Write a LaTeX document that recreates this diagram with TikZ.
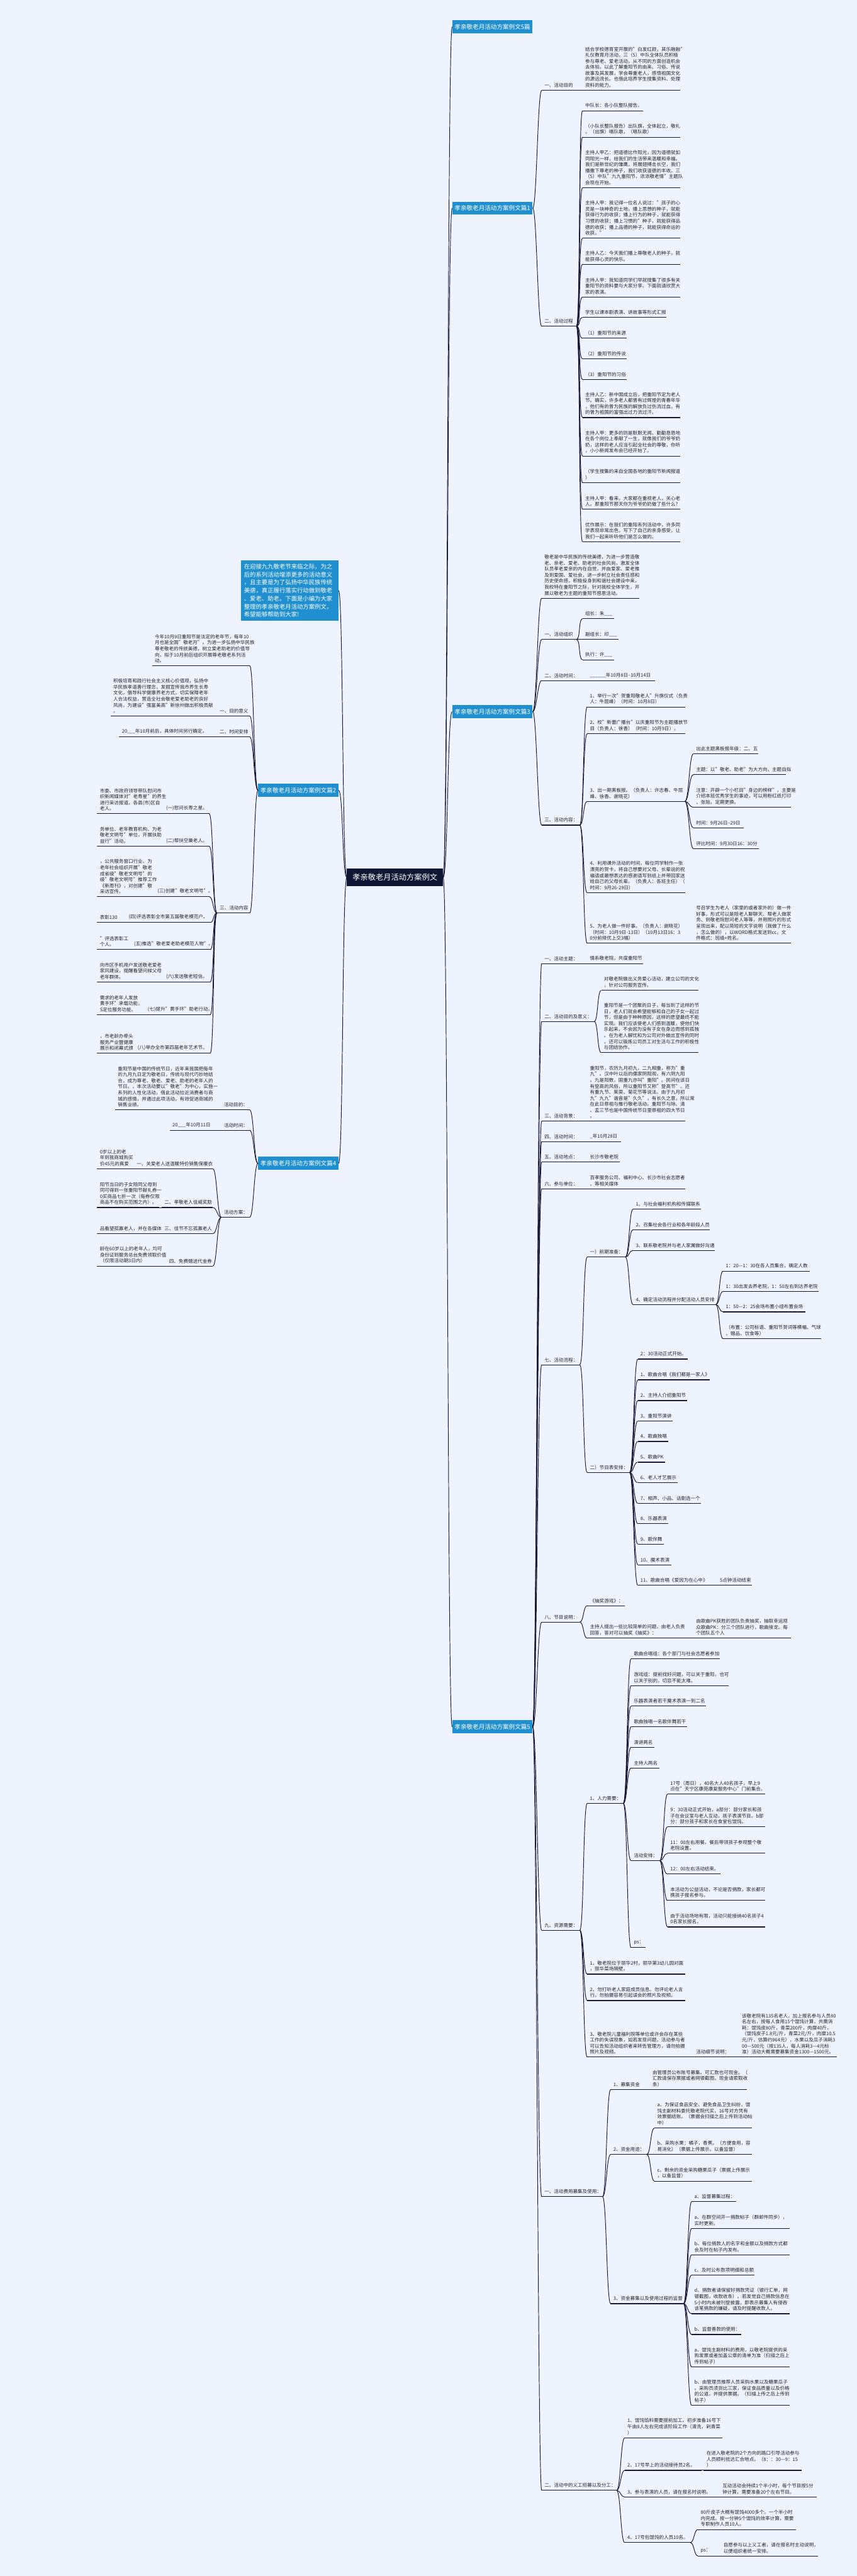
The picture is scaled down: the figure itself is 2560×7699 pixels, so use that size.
\documentclass[tikz,border=0pt]{standalone}
\usepackage{fontspec}
\setmainfont{Noto Sans CJK SC}
\usetikzlibrary{positioning}
\definecolor{bgc}{RGB}{238,243,254}
\definecolor{linec}{RGB}{22,26,52}
\definecolor{bluec}{RGB}{31,143,207}
\definecolor{rootc}{RGB}{14,22,52}
\definecolor{txtc}{RGB}{36,36,40}
\tikzset{
  txt/.style={anchor=south west, inner sep=0pt, align=left, text=txtc, font=\fontsize{7.1}{9}\selectfont},
  uline/.style={draw=linec, line width=1.1pt},
  link/.style={draw=linec, line width=0.9pt},
  bbox/.style={fill=bluec, text=white, inner sep=0pt, minimum width=120pt, minimum height=19.5pt, font=\fontsize{9}{11}\selectfont},
  rootbox/.style={fill=rootc, text=white, inner sep=0pt, minimum width=143.5pt, minimum height=25.5pt, font=\fontsize{11.5}{13}\selectfont},
  introbox/.style={fill=bluec, text=white, inner sep=0pt, minimum width=146pt, minimum height=91pt, align=left, text width=136pt, font=\fontsize{8.8}{12}\selectfont}
}
\newcommand{\leaf}[5]{\draw[uline] (#2,#4) coordinate (#1-l) -- (#3,#4) coordinate (#1-r);
  \node[txt] (#1) at (#2+8,#4-8) {#5};}
\newcommand{\rlink}[2]{\draw[link] (#1) .. controls +(12,0) and +(-12,0) .. (#2);}
\newcommand{\llink}[2]{\draw[link] (#1) .. controls +(-12,0) and +(12,0) .. (#2);}

\begin{document}
\begin{tikzpicture}[x=0.5pt,y=-0.5pt]
\fill[bgc] (0,0) rectangle (2560,7699);
\useasboundingbox (0,0) rectangle (2560,7699);

\node[rootbox] (root) at (1180,2622) {孝亲敬老月活动方案例文}; % centre
\node[bbox] (b0) at (1471,80) {孝亲敬老月活动方案例文5篇};
\node[bbox] (b1) at (1471,622) {孝亲敬老月活动方案例文篇1};
\node[bbox] (b3) at (1471,2127) {孝亲敬老月活动方案例文篇3};
\node[bbox] (b5) at (1471,5161) {孝亲敬老月活动方案例文篇5};
\node[introbox] (intro) at (865,1765) {在迎接九九敬老节来临之际，为之\\后的系列活动增添更多的活动意义\\，且主要是为了弘扬中华民族传统\\美德，真正履行落实行动做到敬老\\、爱老、助老。下面是小编为大家\\整理的孝亲敬老月活动方案例文，\\希望能够帮助到大家!};
\node[bbox] (b2) at (891,2362) {孝亲敬老月活动方案例文篇2};
\node[bbox] (b4) at (891,3477) {孝亲敬老月活动方案例文篇4};
\foreach \b in {b0,b1,b3,b5} \draw[link] (root.east) .. controls +(14,0) and +(-14,0) .. (\b.west);
\foreach \b in {intro,b2,b4} \draw[link] (root.west) .. controls +(-14,0) and +(14,0) .. (\b.east);

% 篇1
\leaf{a1}{1618}{1722}{270}{一、活动目的}
\leaf{a1x}{1740}{2032}{270}{结合学校德育室开展的"白发红颜，其乐融融"\\礼仪教育月活动，三（5）中队全体队员积极\\参与尊老、爱老活动，从不同的方面创造机会\\去体验。以此了解重阳节的由来、习俗、传说\\故事及其发展，学会尊重老人，感悟祖国文化\\的源远流长。也借此培养学生搜集资料、处理\\资料的能力。}
\leaf{a2}{1618}{1722}{975}{二、活动过程}
\leaf{a2c1}{1740}{1921}{331}{中队长：各小队整队报告。}
\leaf{a2c2}{1740}{2032}{410}{（小队长整队报告）出队旗，全体起立，敬礼\\。（出旗）唱队歌，（唱队歌）}
\leaf{a2c3}{1740}{2032}{561}{主持人甲乙：把道德比作阳光，因为道德就如\\同阳光一样，给我们的生活带来温暖和幸福。\\我们是新世纪的雏鹰，将展翅搏击长空，我们\\播撒下尊老的种子，我们收获道德的丰收。三\\（5）中队"九九重阳节，浓浓敬老情"主题队\\会现在开始。}
\leaf{a2c4}{1740}{2032}{712}{主持人甲：我记得一位名人说过："孩子的心\\灵是一块神奇的土地，播上思想的种子，就能\\获得行为的收获；播上行为的种子，就能获得\\习惯的收获；播上习惯的"种子，就能获得品\\德的收获；播上品德的种子，就能获得命运的\\收获。"}
\leaf{a2c5}{1740}{2032}{790}{主持人乙：今天我们播上尊敬老人的种子，就\\能获得心灵的快乐。}
\leaf{a2c6}{1740}{2032}{888}{主持人甲：我知道同学们早就搜集了很多有关\\重阳节的资料要与大家分享。下面就请欣赏大\\家的表演。}
\leaf{a2c7}{1740}{1990}{949}{学生以课本剧表演、讲故事等形式汇报}
\leaf{a2c8}{1740}{1873}{1011}{（1）重阳节的来源}
\leaf{a2c9}{1740}{1873}{1072}{（2）重阳节的传说}
\leaf{a2c10}{1740}{1873}{1134}{（3）重阳节的习俗}
\leaf{a2c11}{1740}{2032}{1248}{主持人乙：新中国成立后，把重阳节定为老人\\节。确实，许多老人都曾有过辉煌的青春年华\\，他们有的曾为民族的解放负过伤流过血，有\\的曾为祖国的富强出过力流过汗。}
\leaf{a2c12}{1740}{2032}{1363}{主持人甲：更多的则是默默无闻、勤勤恳恳地\\在各个岗位上奉献了一生，就像我们的爷爷奶\\奶，这样的老人应当引起全社会的尊敬，你听\\，小小新闻发布会已经开始了。}
\leaf{a2c13}{1740}{2032}{1443}{（学生搜集的来自全国各地的重阳节新闻报道\\）}
\leaf{a2c14}{1740}{2032}{1522}{主持人甲：看来，大家都在重视老人，关心老\\人。那重阳节那天你为爷爷奶奶做了些什么？}
\leaf{a2c15}{1740}{2032}{1619}{优作展示：在我们的重阳系列活动中，许多同\\学表现非常出色，写下了自己的亲身感受，让\\我们一起来听听他们是怎么做的。}
\foreach \c in {a1,a2} \draw[link] (b1.east) .. controls +(12,0) and +(-12,0) .. (\c-l);
\rlink{a1-r}{a1x-l}
\foreach \c in {a2c1,a2c2,a2c3,a2c4,a2c5,a2c6,a2c7,a2c8,a2c9,a2c10,a2c11,a2c12,a2c13,a2c14,a2c15} \rlink{a2-r}{\c-l};

% 篇3
\leaf{c1}{1618}{1909}{1788}{敬老是中华民族的传统美德，为进一步营造敬\\老、亲老、爱老、助老的社会风尚，激发全体\\队员孝老爱亲的内在自觉，并由爱家、爱老推\\及到爱国、爱社会，进一步树立社会责任感和\\历史使命感，积极投身到和谐社会建设中来，\\我校特在重阳节之际，针对我校全体学生，开\\展以敬老为主题的重阳节感恩活动。}
\leaf{c2}{1618}{1722}{1911}{一、活动组织}
\leaf{c2a}{1740}{1834}{1849}{组长：朱\_\_\_}
\leaf{c2b}{1740}{1848}{1911}{副组长：印\_\_\_}
\leaf{c2c}{1740}{1834}{1972}{执行：许\_\_\_}
\leaf{c3}{1618}{1732}{2034}{二、活动时间：}
\leaf{c3a}{1754}{1956}{2034}{\_\_\_\_\_\_年10月8日--10月14日}
\leaf{c4}{1618}{1732}{2466}{三、活动内容：}
\leaf{d1}{1754}{2046}{2113}{1、举行一次"贺重阳敬老人"升旗仪式（负责\\人：牛屈峰）（时间：10月8日）}
\leaf{d2}{1754}{2046}{2193}{2、校"新蕾广播台"以庆重阳节为主题播放节\\目（负责人：徐香）（时间：10月9日）。}
\leaf{d3}{1754}{2046}{2395}{3、出一期黑板报。（负责人：许志春、牛屈\\峰、徐香、谢晓花）}
\leaf{e1}{2071}{2265}{2253}{出此主题黑板报年级：二、五}
\leaf{e2}{2071}{2347}{2315}{主题：以"敬老、助老"为大方向，主题自拟}
\leaf{e3}{2071}{2363}{2413}{注意：开辟一个小栏目"身边的榜样"，主要是\\介绍本班优秀学生的事迹，可以用粉红纸打印\\、张贴，定期更换。}
\leaf{e4}{2071}{2222}{2474}{时间：9月26日--29日}
\leaf{e5}{2071}{2267}{2536}{评比时间：9月30日16：30分}
\leaf{d4}{1754}{2046}{2668}{4、利用课外活动的时间，每位同学制作一张\\漂亮的贺卡，将自己想要对父母、长辈说的祝\\福语或最想表达的感谢语写到纸上并带回家送\\给自己的父母长辈。（负责人：各班主任）（\\时间：9月26-29日）}
\leaf{d5}{1754}{2046}{2819}{5、为老人做一件好事。（负责人：谢晓花）\\（时间：10月9日-13日）（10月13日16：3\\0分前择优上交3幅）}
\leaf{d5a}{2071}{2363}{2819}{号召学生为老人（家里的或者家外的）做一件\\好事，形式可以是陪老人聊聊天、帮老人做家\\务、到敬老院慰问老人等等，并用照片的形式\\呈现出来，配以简短的文字说明（我做了什么\\，怎么做的），以WORD格式发送到cc，文\\件格式：班级+姓名。}
\foreach \c in {c1,c2,c3,c4} \draw[link] (b3.east) .. controls +(12,0) and +(-12,0) .. (\c-l);
\foreach \c in {c2a,c2b,c2c} \rlink{c2-r}{\c-l};
\rlink{c3-r}{c3a-l}
\foreach \c in {d1,d2,d3,d4,d5} \rlink{c4-r}{\c-l};
\foreach \c in {e1,e2,e3,e4,e5} \rlink{d3-r}{\c-l};
\rlink{d5-r}{d5a-l}

% 篇5
\leaf{f1}{1618}{1732}{2880}{一、活动主题：}
\leaf{f1a}{1754}{1921}{2880}{情系敬老院，共度重阳节}
\leaf{f2}{1618}{1775}{3053}{二、活动目的及意义：}
\leaf{f2a}{1796}{2087}{2960}{对敬老院做出义务爱心活动，建立公司的文化\\，针对公司服务宣传。}
\leaf{f2b}{1796}{2087}{3146}{重阳节是一个团聚的日子，每当到了这样的节\\日，老人们就会希望能够和自己的子女一起过\\节，但是由于种种原因，这样的愿望最终不能\\实现。我们应该使老人们感到温暖，使他们快\\乐起来，不会因为没有子女在身边而感到孤独\\。在为老人解忧和为公司对外做出宣传的同时\\，还可以锻炼公司员工对生活与工作的积极性\\与团结协作。}
\leaf{f3}{1618}{1732}{3351}{三、活动背景：}
\leaf{f3a}{1754}{2046}{3351}{重阳节，农历九月初九，二九相重，称为"重\\九"。汉中叶以后的儒家阴阳观，有六阴九阳\\。九是阳数，固重九亦叫"重阳"。民间在该日\\有登高的风俗，所以重阳节又称"登高节"。还\\有重九节、茱萸、菊花节等说法。由于九月初\\九"九九"谐音是"久久"，有长久之意，所以常\\在此日祭祖与推行敬老活动。重阳节与除、清\\、盂三节也是中国传统节日里祭祖的四大节日\\。}
\leaf{f4}{1618}{1732}{3412}{四、活动时间：}
\leaf{f4a}{1754}{1855}{3412}{\_年10月28日}
\leaf{f5}{1618}{1732}{3473}{五、活动地点：}
\leaf{f5a}{1754}{1852}{3473}{长沙市敬老院}
\leaf{f6}{1618}{1732}{3553}{六、参与单位：}
\leaf{f6a}{1754}{2046}{3553}{百孝服务公司、福利中心、长沙市社会志愿者\\、等相关媒体}
\leaf{f7}{1618}{1732}{4079}{七、活动流程：}
\leaf{g1}{1754}{1868}{3757}{一）前期准备：}
\leaf{h1}{1891}{2093}{3614}{1、与社会福利机构和传媒联系}
\leaf{h2}{1891}{2120}{3675}{2、召集社会各行业和各年龄段人员}
\leaf{h3}{1891}{2135}{3737}{3、联系敬老院并与老人家属做好沟通}
\leaf{h4}{1891}{2138}{3899}{4、确定活动流程并分配活动人员安排}
\leaf{i1}{2160}{2419}{3799}{1：20—1：30在各人员集合，确定人数}
\leaf{i2}{2160}{2445}{3860}{1：30出发去养老院，1：50左右到达养老院}
\leaf{i3}{2160}{2405}{3921}{1：50—2：25会场布置小组布置会场}
\leaf{i4}{2160}{2453}{4001}{（布置：公司标语、重阳节贺词等横幅、气球\\、赠品、饮食等）}
\leaf{g2}{1754}{1881}{4401}{二）节目表安排：}
\leaf{j1}{1905}{2054}{4062}{2：30活动正式开始。}
\leaf{j2}{1905}{2120}{4124}{1、歌曲合唱《我们都是一家人》}
\leaf{j3}{1905}{2052}{4186}{2、主持人介绍重阳节}
\leaf{j4}{1905}{2010}{4247}{3、重阳节演讲}
\leaf{j5}{1905}{1997}{4308}{4、歌曲独唱}
\leaf{j6}{1905}{1986}{4370}{5、歌曲PK}
\leaf{j7}{1905}{2024}{4431}{6、老人才艺展示}
\leaf{j8}{1905}{2093}{4493}{7、相声、小品、话剧选一个}
\leaf{j9}{1905}{1997}{4554}{8、乐器表演}
\leaf{j10}{1905}{1983}{4615}{9、歌伴舞}
\leaf{j11}{1905}{2005}{4677}{10、魔术表演}
\leaf{j12}{1905}{2132}{4738}{11、歌曲合唱《爱因为在心中》}
\leaf{j12a}{2142}{2246}{4738}{5点钟活动结束}
\leaf{f8}{1618}{1732}{4848}{八、节目说明：}
\leaf{k1}{1754}{1866}{4799}{《抽奖游戏》：}
\leaf{k2}{1754}{2046}{4896}{主持人提出一些比较简单的问题，由老人负责\\回答，答对可以抽奖《抽奖》：}
\leaf{k2a}{2071}{2363}{4896}{由歌曲PK获胜的团队负责抽奖，抽取幸运观\\众歌曲PK：分三个团队进行，歌曲接龙。每\\个团队五个人}
\leaf{f9}{1618}{1732}{5769}{九、资源需要：}
\leaf{m1}{1754}{1862}{5390}{1、人力需要：}
\leaf{n1}{1885}{2150}{4958}{歌曲合唱组：各个部门与社会志愿者参加}
\leaf{n2}{1885}{2177}{5038}{游戏组：提前找好问题，可以关于重阳，也可\\以关于别的，切忌不能太难。}
\leaf{n3}{1885}{2108}{5099}{乐器表演者若干魔术表演一到二名}
\leaf{n4}{1885}{2052}{5161}{歌曲独唱一名歌伴舞若干}
\leaf{n5}{1885}{1955}{5222}{演讲两名}
\leaf{n6}{1885}{1969}{5284}{主持人两名}
\leaf{n7}{1885}{1971}{5561}{活动安排：}
\leaf{p1}{1994}{2285}{5362}{17号（周日），40名大人40名孩子，早上9\\点在"天宁区康苑康复服务中心"门前集合。}
\leaf{p2}{1994}{2285}{5460}{9：30活动正式开始，a部分：部分家长和孩\\子在会议室与老人互动，孩子表演节目。b部\\分：部分孩子和家长在食堂包馄饨。}
\leaf{p3}{1994}{2285}{5539}{11：00左右用餐。餐后带领孩子参观整个敬\\老院设置。}
\leaf{p4}{1994}{2152}{5601}{12：00左右活动结束。}
\leaf{p5}{1994}{2285}{5680}{本活动为公益活动，不论是否捐款，家长都可\\携孩子报名参与。}
\leaf{p6}{1994}{2285}{5759}{由于活动场地有限，活动只能接纳40名孩子4\\0名家长报名。}
\leaf{n8}{1885}{1928}{5821}{ps：}
\leaf{m2}{1754}{2046}{5900}{1、敬老院位于丽华2村，丽华第3幼儿园对面\\，丽华菜场隔壁。}
\leaf{m3}{1754}{2046}{5979}{2、勿打听老人家庭成员信息。勿评论老人言\\行。勿拍摄容易引起误会的照片及视频。}
\leaf{m4}{1754}{2046}{6148}{3、敬老院儿童福利院等单位或许会存在某些\\工作的失误现象，如若发现问题，活动参与者\\可以告知活动组织者来转告管理方，请勿拍摄\\照片及视频。}
\leaf{m4a}{2071}{2200}{6148}{活动细节说明：}
\leaf{m4b}{2208}{2500}{6148}{该敬老院有135名老人，加上报名参与人员80\\名左右，按每人食用15个馄饨计算，共需消\\耗：馄饨皮80斤，青菜200斤，肉糜40斤。\\（馄饨皮子1.8元/斤，青菜2元/斤，肉糜10.5\\元/斤，估算约964元），水果以及瓜子消耗3\\00—500元（按135人，每人消耗3—4元标\\准）活动大概需要募集资金1300—1500元。}
\leaf{f10}{1618}{1800}{6565}{一、活动费用募集及使用：}
\leaf{q1}{1824}{1934}{6245}{1、募集资金}
\leaf{q1a}{1941}{2232}{6245}{由管理员公布账号募集。可汇款也可现金。（\\汇款请保存票据或者网银截图，现金请索取收\\条）}
\leaf{q2}{1824}{1932}{6439}{2、资金用途：}
\leaf{r1}{1955}{2246}{6360}{a、为保证食品安全、避免食品卫生纠纷，馄\\饨主副材料委托敬老院代买，16号对方凭有\\效票据结账。（票据会扫描之后上传到活动帖\\中）}
\leaf{r2}{1955}{2246}{6439}{b、采购水果：橘子，香蕉。（方便食用，容\\易消化）（票据上传展示，以备监督）}
\leaf{r3}{1955}{2246}{6519}{c、剩余的资金采购糖果瓜子（票据上传展示\\，以备监督）}
\leaf{q3}{1824}{2042}{6885}{3、资金募集以及使用过程的监督}
\leaf{s1}{2066}{2199}{6580}{a、监督募集过程：}
\leaf{s2}{2066}{2358}{6660}{a、在群空间开一捐款帖子（群邮件同步），\\实时更新。}
\leaf{s3}{2066}{2358}{6739}{b、每位捐款人的名字和金额以及捐款方式都\\会及时在帖子内发布。}
\leaf{s4}{2066}{2253}{6800}{c、及时公布款项明细和总额}
\leaf{s5}{2066}{2358}{6915}{d、捐款者请保留好捐款凭证（银行汇单，网\\银截图，收款收条）。若发觉自己捐款信息在\\5小时内未被刊登披露，即表示募集人有侵吞\\该笔捐款的嫌疑，请及时提醒收款人。}
\leaf{s6}{2066}{2214}{6977}{b、监督善款的使用：}
\leaf{s7}{2066}{2358}{7074}{a、馄饨主副材料的费用，以敬老院提供的采\\购发票或者加盖公章的清单为准（扫描之后上\\传到帖子）}
\leaf{s8}{2066}{2358}{7189}{b、由管理员推荐人员采购水果以及糖果瓜子\\。采购员须货比三家，保证食品质量以及价格\\的公道。并提供票据。（扫描上传之后上传到\\帖子）}
\leaf{f11}{1618}{1842}{7443}{二、活动中的义工招募以及分工：}
\leaf{t1}{1866}{2158}{7286}{1、馄饨馅料需要提前加工。初步准备16号下\\午由8人左右完成该阶段工作（清洗，剁青菜\\）}
\leaf{t2}{1866}{2096}{7383}{2、17号早上的活动接待员2名。}
\leaf{t2a}{2102}{2395}{7383}{在进入敬老院的2个方向的路口引导活动参与\\人员顺利抵达汇合地点。（8：：30—9：15\\）}
\leaf{t3}{1866}{2144}{7463}{3、参与表演的人员，请在报名时说明。}
\leaf{t3a}{2150}{2440}{7463}{互动活动会持续1个半小时，每个节目按5分\\钟计算，需要准备20个左右节目。}
\leaf{t4}{1866}{2062}{7599}{4、17号包馄饨的人员10名。}
\leaf{u1}{2085}{2377}{7560}{80斤皮子大概有馄饨4000多个。一个半小时\\内完成。按一分钟5个馄饨的效率计算，需要\\专职制作人员10人。}
\leaf{u2}{2085}{2147}{7639}{ps：}
\leaf{u2a}{2153}{2444}{7639}{自愿参与以上义工者，请在报名时主动说明，\\以便组织者统一安排。}
\foreach \c in {f1,f2,f3,f4,f5,f6,f7,f8,f9,f10,f11} \draw[link] (b5.east) .. controls +(12,0) and +(-12,0) .. (\c-l);
\foreach \p/\c in {f1/f1a,f2/f2a,f2/f2b,f3/f3a,f4/f4a,f5/f5a,f6/f6a,f7/g1,f7/g2,g1/h1,g1/h2,g1/h3,g1/h4,h4/i1,h4/i2,h4/i3,h4/i4,j12/j12a,f8/k1,f8/k2,k2/k2a} \rlink{\p-r}{\c-l};
\foreach \c in {j1,j2,j3,j4,j5,j6,j7,j8,j9,j10,j11,j12} \rlink{g2-r}{\c-l};
\foreach \c in {m1,m2,m3,m4} \rlink{f9-r}{\c-l};
\foreach \c in {n1,n2,n3,n4,n5,n6,n7,n8} \rlink{m1-r}{\c-l};
\foreach \c in {p1,p2,p3,p4,p5,p6} \rlink{n7-r}{\c-l};
\foreach \p/\c in {m4/m4a,m4a/m4b,f10/q1,f10/q2,f10/q3,q1/q1a,q2/r1,q2/r2,q2/r3,f11/t1,f11/t2,f11/t3,f11/t4,t2/t2a,t3/t3a,t4/u1,t4/u2,u2/u2a} \rlink{\p-r}{\c-l};
\foreach \c in {s1,s2,s3,s4,s5,s6,s7,s8} \rlink{q3-r}{\c-l};

% 篇2
\leaf{v1}{454}{746}{1990}{今年10月9日重阳节是法定的老年节，每年10\\月也是全国"敬老月"。为进一步弘扬中华民族\\尊老敬老的传统美德，树立爱老助老的价值导\\向，拟于10月前后组织开展尊老敬老系列活\\动。}
\leaf{v2}{648}{746}{2140}{一、目的意义}
\leaf{v2a}{330}{640}{2140}{积极培育和践行社会主义核心价值观，弘扬中\\华民族孝道善行理念，发掘宣传我市养生长寿\\文化，倡导科学健康养老方式，切实保障老年\\人合法权益，营造全社会敬老爱老助老的良好\\风尚，为建设"强富美高"新徐州做出积极贡献\\。}
\leaf{v3}{648}{746}{2202}{二、时间安排}
\leaf{v3a}{356}{640}{2202}{20\_\_\_年10月前后，具体时间另行确定。}
\leaf{v4}{648}{746}{2729}{三、活动内容}
\leaf{w1}{488}{625}{2432}{(一)慰问长寿之星。}
\leaf{w1a}{290}{480}{2432}{市委、市政府领导带队慰问市\\织新闻媒体对"老寿星"的养生\\进行采访报道。各县(市)区自\\老人。}
\leaf{w2}{488}{625}{2529}{(二)帮扶空巢老人。}
\leaf{w2a}{290}{480}{2529}{务单位、老年教育机构、为老\\敬老文明号"单位，开展扶助\\益行"活动。}
\leaf{w3}{462}{625}{2680}{(三)创建"敬老文明号"。}
\leaf{w3a}{290}{454}{2680}{，公共服务窗口行业、为\\老年社会组织开展"敬老\\成省级"敬老文明号"的\\级"敬老文明号"推荐工作\\《新周刊》，对创建"敬\\采访宣传。}
\leaf{w4}{376}{628}{2757}{(四)评选表彰全市第五届敬老模范户。}
\leaf{w4a}{290}{368}{2757}{表彰130}
\leaf{w5}{392}{628}{2838}{(五)推选"敬老爱老助老模范人物"。}
\leaf{w5a}{290}{384}{2838}{"评选表彰工\\个人。}
\leaf{w6}{488}{628}{2935}{(六)发送敬老短信。}
\leaf{w6a}{290}{480}{2935}{向市区手机用户发送敬老爱老\\家风建设，提醒看望问候父母\\老年群体。}
\leaf{w7}{433}{628}{3033}{(七)提升"黄手环"助老行动。}
\leaf{w7a}{290}{425}{3033}{需求的老年人发放\\黄手环"承载功能，\\S定位服务功能。}
\leaf{w8}{403}{628}{3148}{(八)举办全市第四届老年艺术节。}
\leaf{w8a}{290}{395}{3148}{，市老龄办牵头\\服务产业暨健康\\展示和闭幕式颁}
\foreach \c in {v1,v2,v3,v4} \draw[link] (b2.west) .. controls +(-12,0) and +(12,0) .. (\c-r);
\foreach \p/\c in {v2/v2a,v3/v3a,w1/w1a,w2/w2a,w3/w3a,w4/w4a,w5/w5a,w6/w6a,w7/w7a,w8/w8a} \llink{\p-l}{\c-r};
\foreach \c in {w1,w2,w3,w4,w5,w6,w7,w8} \llink{v4-l}{\c-r};

% 篇4
\leaf{x1}{661}{746}{3317}{活动目的：}
\leaf{x1a}{344}{654}{3317}{重阳节是中国的传统节日，近年来我国把每年\\的九月九日定为敬老日，传统与现代巧妙地结\\合，成为尊老、敬老、爱老、助老的老年人的\\节日。，本次活动要以"敬老"为中心，实施一\\系列的人性化活动，借此活动拉近消费者与商\\城的感情，并通过此项活动，有效促进商城的\\销售业绩。}
\leaf{x2}{661}{746}{3378}{活动时间：}
\leaf{x2a}{507}{654}{3378}{20\_\_\_年10月11日}
\leaf{x3}{661}{746}{3638}{活动方案：}
\leaf{y1}{400}{636}{3493}{一、关爱老人送温暖特价销售保暖衣}
\leaf{y1a}{290}{392}{3493}{0岁以上的老\\年到我商城购买\\价45元的真爱}
\leaf{y2}{483}{636}{3609}{二、孝敬老人佳威奖励}
\leaf{y2a}{290}{475}{3609}{阳节当日的子女陪同父母到\\同可得到一张重阳节献礼券一\\0买商品七折一次（每券仅限\\商品不在购买范围之内）。}
\leaf{y3}{483}{636}{3687}{三、佳节不忘孤寡老人}
\leaf{y3a}{290}{475}{3687}{品看望孤寡老人，并在各媒体}
\leaf{y4}{497}{636}{3784}{四、免费赠送代金券}
\leaf{y4a}{290}{489}{3784}{龄在60岁以上的老年人，均可\\身份证到服务总台免费领取价值\\（仅限活动期3日内）}
\foreach \c in {x1,x2,x3} \draw[link] (b4.west) .. controls +(-12,0) and +(12,0) .. (\c-r);
\foreach \p/\c in {x1/x1a,x2/x2a,y1/y1a,y2/y2a,y3/y3a,y4/y4a} \llink{\p-l}{\c-r};
\foreach \c in {y1,y2,y3,y4} \llink{x3-l}{\c-r};
\end{tikzpicture}
\end{document}
